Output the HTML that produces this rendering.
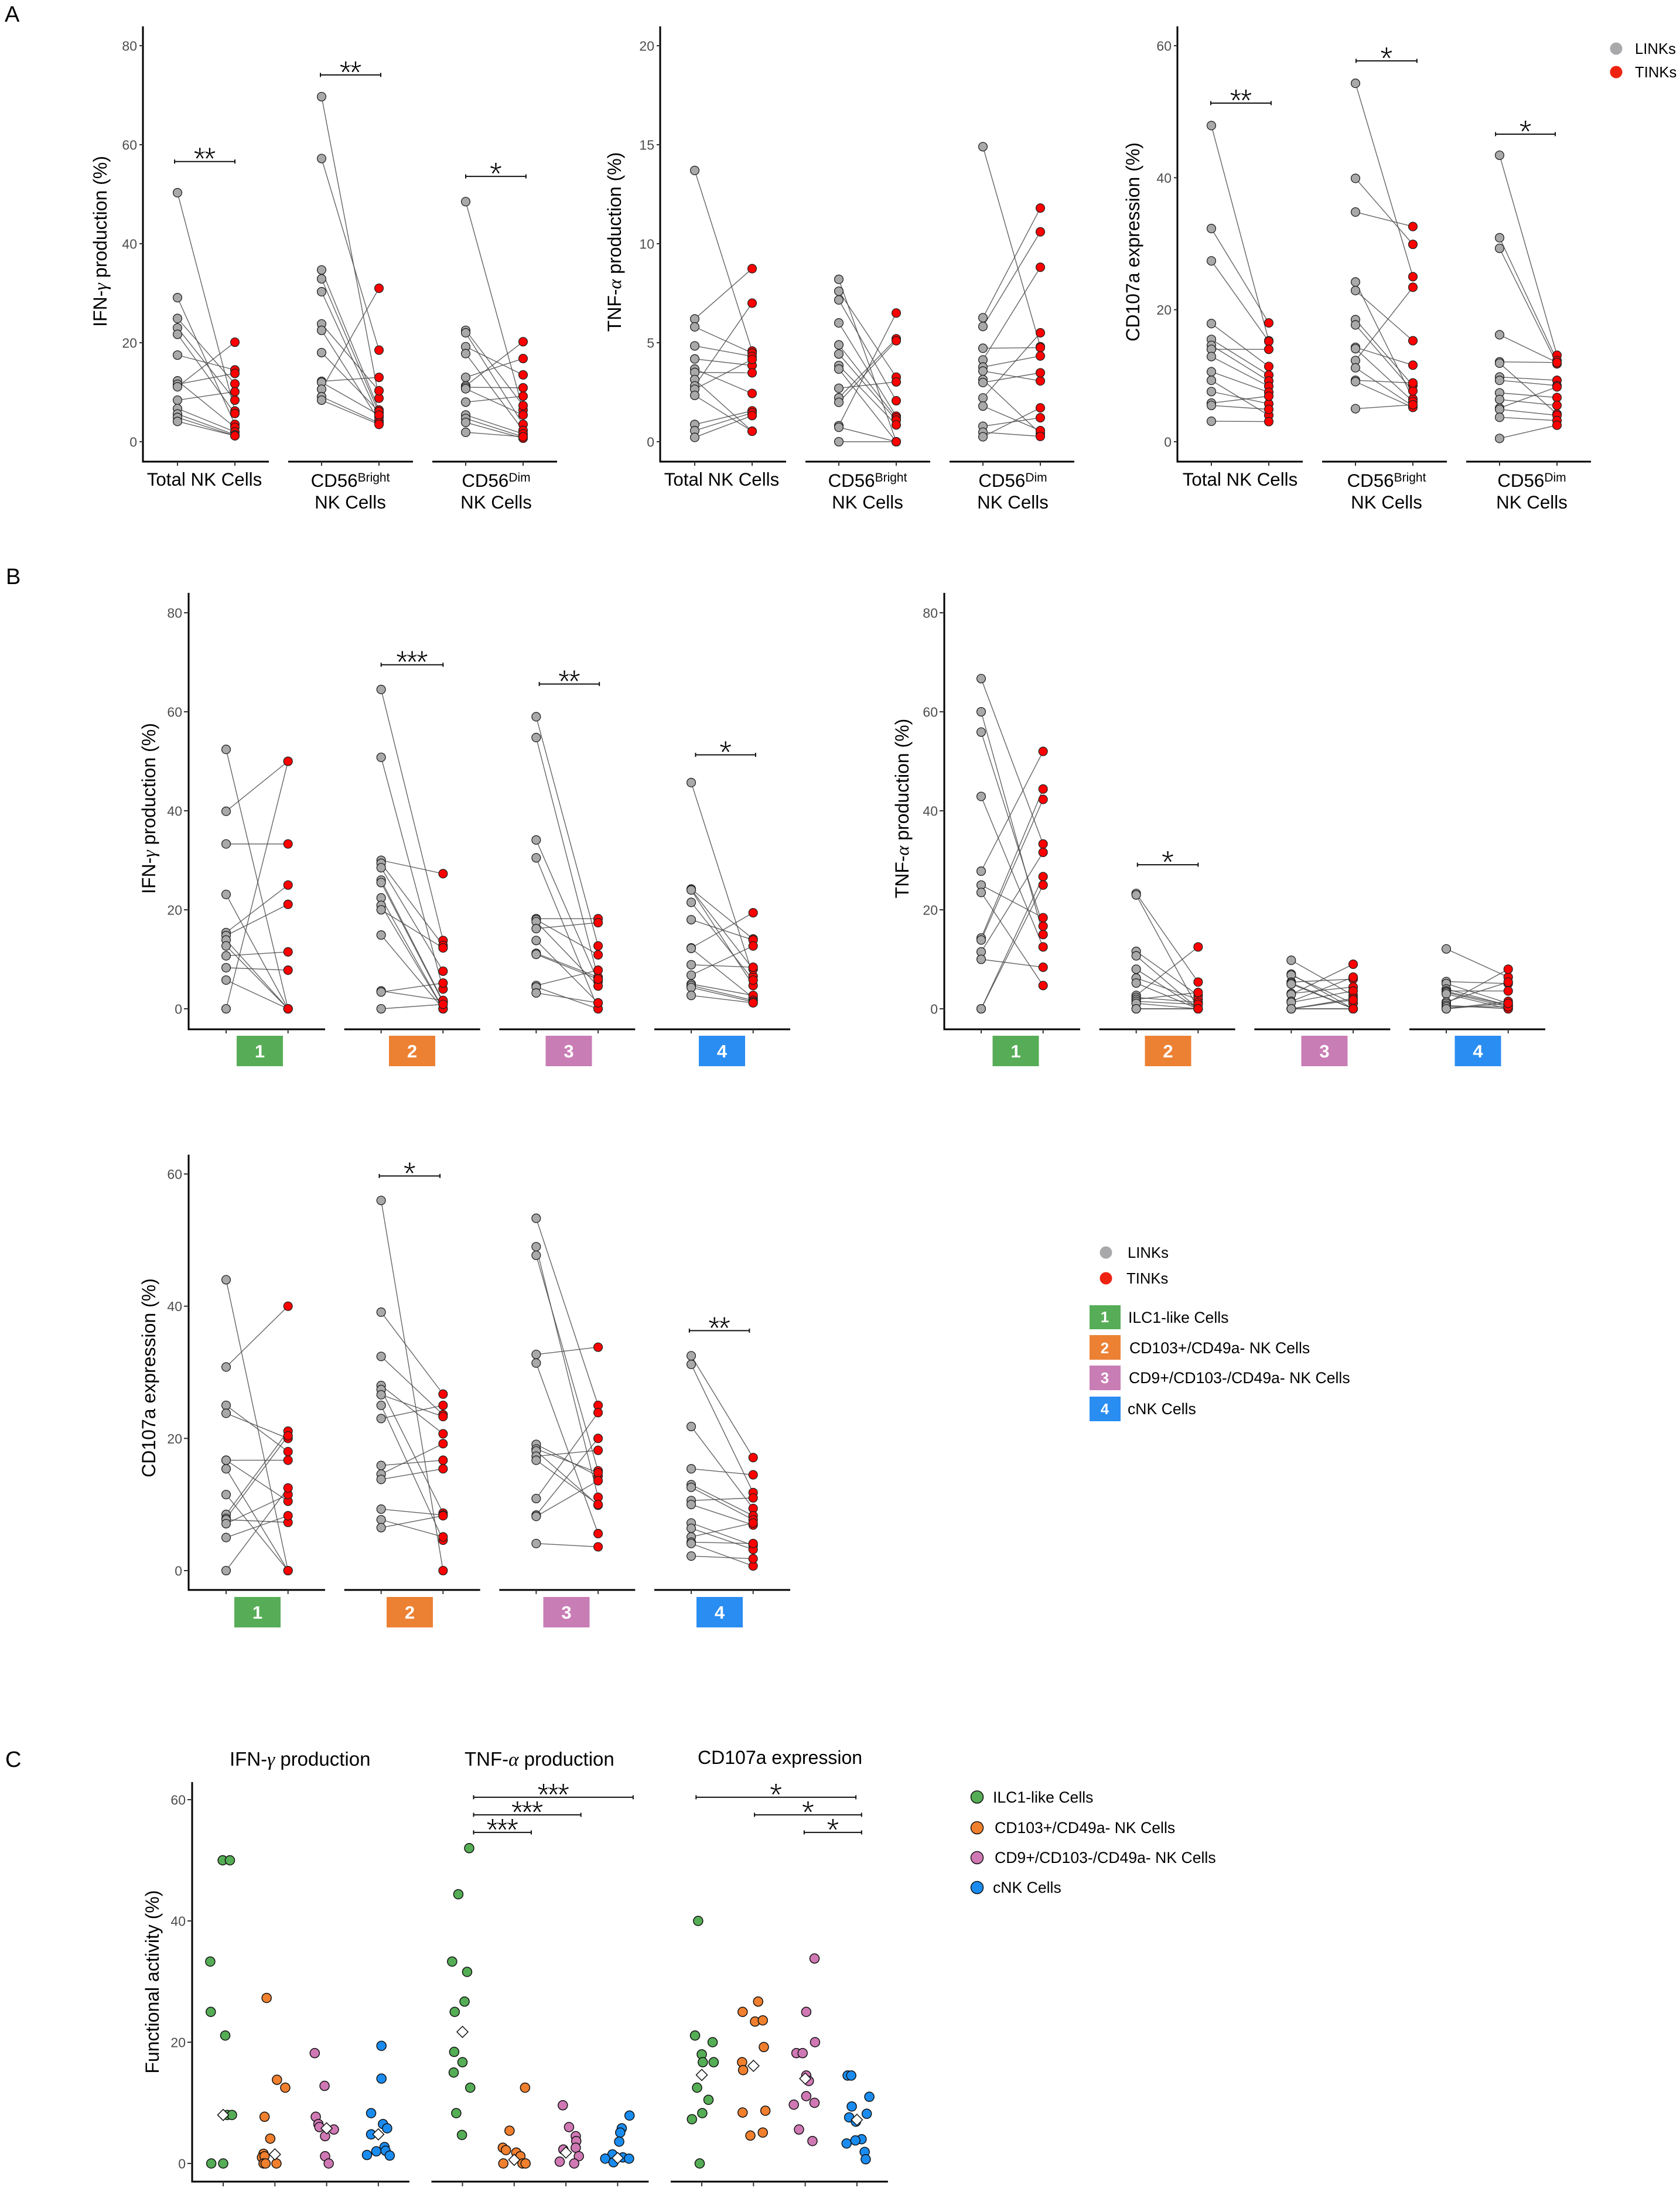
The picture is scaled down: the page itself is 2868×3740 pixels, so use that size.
<!DOCTYPE html>
<html lang="en">
<head>
<meta charset="utf-8">
<title>NK cell functional activity figure</title>
<style>
html,body{margin:0;padding:0;background:#fff;}
svg{display:block;}
text{font-family:"Liberation Sans",Arial,sans-serif;fill:#000;}
.tt{font-size:32px;}
.cat{font-size:31.3px;text-anchor:middle;}
.sup{font-size:21px;}
.leg{font-size:25.7px;}
.legl{font-size:26.6px;}
.ctitle{font-size:33px;}
.gk{font-family:"Liberation Serif",serif;font-style:italic;}
.letter{font-size:38px;}
</style>
</head>
<body>
<svg id="figure" xmlns="http://www.w3.org/2000/svg" width="2868" height="3740" viewBox="0 0 2868 3740">
  <rect width="2868" height="3740" fill="#fff"/>

  <text class="letter" x="8" y="37">A</text>
  <text class="letter" x="10" y="997">B</text>
  <text class="letter" x="9" y="3016">C</text>

  <text class="tt" transform="translate(182,412) rotate(-90)" text-anchor="middle">IFN-<tspan class="gk">γ</tspan> production (%)</text>
  <text class="tt" transform="translate(1060,413) rotate(-90)" text-anchor="middle">TNF-<tspan class="gk">α</tspan> production (%)</text>
  <text class="tt" transform="translate(1945,413) rotate(-90)" text-anchor="middle">CD107a expression (%)</text>
  <text class="tt" transform="translate(265,1380) rotate(-90)" text-anchor="middle">IFN-<tspan class="gk">γ</tspan> production (%)</text>
  <text class="tt" transform="translate(1551,1380) rotate(-90)" text-anchor="middle">TNF-<tspan class="gk">α</tspan> production (%)</text>
  <text class="tt" transform="translate(265,2352) rotate(-90)" text-anchor="middle">CD107a expression (%)</text>
  <text class="tt" transform="translate(271,3383) rotate(-90)" text-anchor="middle">Functional activity (%)</text>

  <g>
    <text class="cat" x="349" y="829">Total NK Cells</text>
    <text class="cat" x="598" y="831">CD56<tspan class="sup" dy="-9">Bright</tspan></text>
    <text class="cat" x="598" y="868">NK Cells</text>
    <text class="cat" x="847" y="831">CD56<tspan class="sup" dy="-9">Dim</tspan></text>
    <text class="cat" x="847" y="868">NK Cells</text>
  </g>
  <g>
    <text class="cat" x="1232" y="829">Total NK Cells</text>
    <text class="cat" x="1481" y="831">CD56<tspan class="sup" dy="-9">Bright</tspan></text>
    <text class="cat" x="1481" y="868">NK Cells</text>
    <text class="cat" x="1729" y="831">CD56<tspan class="sup" dy="-9">Dim</tspan></text>
    <text class="cat" x="1729" y="868">NK Cells</text>
  </g>
  <g>
    <text class="cat" x="2117" y="829">Total NK Cells</text>
    <text class="cat" x="2367" y="831">CD56<tspan class="sup" dy="-9">Bright</tspan></text>
    <text class="cat" x="2367" y="868">NK Cells</text>
    <text class="cat" x="2615" y="831">CD56<tspan class="sup" dy="-9">Dim</tspan></text>
    <text class="cat" x="2615" y="868">NK Cells</text>
  </g>

  <g>
    <circle cx="2759" cy="83" r="10.5" fill="#a9a9ab"/>
    <circle cx="2759" cy="123" r="10.5" fill="#ee2211"/>
    <text class="leg" x="2791" y="92">LINKs</text>
    <text class="leg" x="2791" y="132">TINKs</text>
  </g>

  <g>
    <circle cx="1888" cy="2138" r="10.5" fill="#a9a9ab"/>
    <circle cx="1888" cy="2182" r="10.5" fill="#ee2211"/>
    <text class="leg" x="1925" y="2147">LINKs</text>
    <text class="leg" x="1923" y="2191">TINKs</text>
    <rect x="1860" y="2228" width="53" height="41" fill="#57ad57"/>
    <rect x="1860" y="2279" width="53" height="42" fill="#ec8134"/>
    <rect x="1860" y="2331" width="53" height="42" fill="#c97db5"/>
    <rect x="1860" y="2384" width="53" height="42" fill="#2a8df2"/>
    <text x="1886" y="2257" text-anchor="middle" font-size="25.5" font-weight="bold" style="fill:#fff">1</text>
    <text x="1886" y="2310" text-anchor="middle" font-size="25.5" font-weight="bold" style="fill:#fff">2</text>
    <text x="1886" y="2361" text-anchor="middle" font-size="25.5" font-weight="bold" style="fill:#fff">3</text>
    <text x="1886" y="2414" text-anchor="middle" font-size="25.5" font-weight="bold" style="fill:#fff">4</text>
    <text class="legl" x="1926" y="2258">ILC1-like Cells</text>
    <text class="legl" x="1928" y="2310">CD103+/CD49a- NK Cells</text>
    <text class="legl" x="1927" y="2361">CD9+/CD103-/CD49a- NK Cells</text>
    <text class="legl" x="1925" y="2414">cNK Cells</text>
  </g>

  <text class="ctitle" x="392" y="3014">IFN-<tspan class="gk">γ</tspan> production</text>
  <text class="ctitle" x="793" y="3014">TNF-<tspan class="gk">α</tspan> production</text>
  <text class="ctitle" x="1191" y="3011" style="font-size:32px">CD107a expression</text>

  <g>
    <circle cx="1668" cy="3067.5" r="10.5" fill="#55ad55" stroke="#111" stroke-width="1.5"/>
    <circle cx="1668" cy="3120" r="10.5" fill="#f07f2e" stroke="#111" stroke-width="1.5"/>
    <circle cx="1668" cy="3171" r="10.5" fill="#cf78b4" stroke="#111" stroke-width="1.5"/>
    <circle cx="1668" cy="3222" r="10.5" fill="#1a8cf0" stroke="#111" stroke-width="1.5"/>
    <text class="legl" x="1695" y="3077">ILC1-like Cells</text>
    <text class="legl" x="1698" y="3129">CD103+/CD49a- NK Cells</text>
    <text class="legl" x="1698" y="3180">CD9+/CD103-/CD49a- NK Cells</text>
    <text class="legl" x="1695" y="3231">cNK Cells</text>
  </g>
</svg>

<script>
// ---------- Tick labels ----------
const ticksIfnA = [0, 20, 40, 60, 80];
const ticksTnfA = [0, 5, 10, 15, 20];
const ticksCd107 = [0, 20, 40, 60];
const ticksB = [0, 20, 40, 60, 80];
const ticksC = [0, 20, 40, 60];
const subsetLabels = ['1', '2', '3', '4'];

// ---------- Panel A: IFN-gamma ----------
const aIfnTotalLinks = [50.3,29.1,24.9,23,21.7,17.5,12.3,11.6,11.1,8.4,6.7,5.6,4.9,4.1];
const aIfnTotalTinks = [6.2,3.5,11.7,8.4,5.7,14.5,2.9,13.8,20.1,10.1,2,1.4,1.2,1.2];
const aIfnBrightLinks = [69.7,57.2,34.7,32.9,30.3,23.8,22.5,18,12.2,12,10.6,9.1,8.4];
const aIfnBrightTinks = [8.8,18.5,6.4,5.8,5,10.3,4.3,6.1,13,5.4,31,3.8,3.5];
const aIfnDimLinks = [48.5,22.5,22,19.2,17.8,13,11.3,11,10.7,8,5.4,4.7,3.9,1.9];
const aIfnDimTinks = [6.4,7.3,3.5,13.5,2.3,16.8,20.2,10.9,5.4,9.2,1.6,1,0.7,1];
// ---------- Panel A: TNF-alpha ----------
const aTnfTotalLinks = [13.7,6.2,5.8,4.84,4.18,3.67,3.5,3.14,2.82,2.65,2.34,0.87,0.56,0.22];
const aTnfTotalTinks = [4.58,8.74,4.48,4.31,3.85,2.44,3.48,0.53,7,4.16,0.53,1.56,1.46,1.32];
const aTnfBrightLinks = [8.2,7.6,7.16,6,4.89,4.43,3.85,3.67,2.7,2.22,1.99,0.81,0.73,0];
const aTnfBrightTinks = [0,3.26,2.07,1.29,1.2,1.09,0.85,0,3.02,5.2,5.1,6.5,0,0];
const aTnfDimLinks = [14.9,6.26,5.82,4.72,4.13,3.77,3.57,3.14,2.99,2.21,1.8,0.78,0.48,0.25];
const aTnfDimTinks = [4.8,11.8,10.6,4.75,8.81,4.33,3.07,0.41,3.48,5.5,0.56,1.21,0.27,1.71];
// ---------- Panel A: CD107a ----------
const aCdTotalLinks = [47.9,32.3,27.4,17.9,15.5,14.6,14,12.9,10.6,9.3,7.6,5.85,5.5,3.1];
const aCdTotalTinks = [15.3,18,15.2,11.4,10.1,9.2,14,8.4,7.5,4,5.75,6.9,4.9,3.05];
const aCdBrightLinks = [54.3,39.9,34.8,24.2,22.9,18.5,17.7,14.3,14.1,12.3,11.2,9.3,9.1,5];
const aCdBrightTinks = [25,29.9,32.6,6.5,15.3,8.5,7.7,11.6,6.1,23.4,5.4,8.9,5.2,5.6];
const aCdDimLinks = [43.4,30.9,29.3,16.2,12.1,11.9,9.8,9.3,7.4,6.4,5.1,4.9,3.7,0.5];
const aCdDimTinks = [13.1,12.3,11.8,12,12,4.2,9.3,8.5,6.7,5.5,8.3,4,3.2,2.5];

// ---------- Panel B: IFN-gamma ----------
const bIfn1Links = [52.4,39.9,33.3,23.1,15.4,14.8,13.9,12.7,10.7,8.3,5.8,0];
const bIfn1Tinks = [0,50,33.3,0,25,21.1,0,0,11.5,7.8,0,50];
const bIfn2Links = [64.5,50.8,30,29.4,28.5,26,25.5,22.4,20.9,20,14.9,3.6,3.4,0];
const bIfn2Tinks = [13.8,4,27.3,12.8,7.6,1.5,1.3,0,0,12.3,0,1.7,5.2,0.9];
const bIfn3Links = [59,54.8,34.1,30.5,18.2,18,17.6,16.2,13.8,11.2,11,4.7,4.4,3.2];
const bIfn3Tinks = [12.7,6.2,5.5,0,18.2,10.9,4.6,17.4,1.2,6.4,6,7.8,0,1.2];
const bIfn4Links = [45.7,24.2,24.1,24,21.5,18,12.3,12.2,8.9,6.8,5,4.7,4.3,2.7];
const bIfn4Tinks = [6.6,14.1,8,4.7,5.8,13.9,19.4,2.2,8.4,12.7,2.7,1.7,1.4,1.2];
// ---------- Panel B: TNF-alpha ----------
const bTnf1Links = [66.7,60,55.9,42.9,27.8,25,23.5,14.3,13.9,11.5,10,0,0];
const bTnf1Tinks = [33.3,15,16.7,12.5,52,18.4,4.7,44.4,42.3,31.6,8.4,26.7,25];
const bTnf2Links = [23.3,23,11.6,10.7,8,6.2,5.2,2.7,2.3,1.9,1.5,1.1,0,0];
const bTnf2Tinks = [5.4,0,2.7,0,0,1.9,0,12.5,1.3,3.3,0.9,0,0,0];
const bTnf3Links = [9.8,7,6.8,5.4,5.2,5,3.1,2.9,1.5,1.3,0,0,0,0];
const bTnf3Tinks = [2.7,0,1.1,6,0,0,4.4,9,6.4,3.6,2.1,1.8,0,0];
const bTnf4Links = [12.1,5.5,5.1,4,3.6,3.5,3.3,3,1.4,1.1,0.7,0.4,0,0];
const bTnf4Tinks = [6.4,5.1,1.1,0.7,3.6,0.7,0.4,0,5.4,8,0,0.4,1.5,1.1];
// ---------- Panel B: CD107a ----------
const bCd1Links = [44,30.8,25,23.8,16.7,16.7,15.4,11.5,8.5,7.9,7.7,7.1,5,0];
const bCd1Tinks = [0,40,18,20,16.7,10.5,0,0,21.1,20.4,7.3,11.5,8.3,12.5];
const bCd2Links = [56,39.1,32.4,28,27.4,26.6,25,23,15.9,14.6,13.8,9.3,7.7,6.5];
const bCd2Tinks = [0,26.7,23.6,20.7,8.7,23.3,4.6,25,16.7,19.2,15.4,8.4,5.1,8.3];
const bCd3Links = [53.3,49,47.7,32.7,31.4,19.1,18.4,18.1,17.3,16.7,10.9,8.4,8.2,4.1];
const bCd3Tinks = [25,11.1,15.1,33.8,5.6,14.3,14.8,9.9,18.2,10,23.9,20,13.6,3.6];
const bCd4Links = [32.5,31.2,21.8,15.4,13,12.6,10.6,10,7.2,6.4,5.1,4.3,4.1,2.2];
const bCd4Tinks = [17.1,11.8,9.4,14.5,8.3,7.7,11,6.9,3.8,3.2,7.2,4.1,0.7,1.8];

// ---------- Panel C: values and horizontal jitter (in category units) ----------
const cIfnIlc1 = [33.3,25,50,50,21.1,8,8,0,0];
const cIfnIlc1Jitter = [-0.25,-0.24,-0.01,0.13,0.04,0.08,0.17,-0.23,0];
const cIfnCd103 = [27.3,13.8,12.5,7.7,4.1,1.6,1,1.2,0,0,0];
const cIfnCd103Jitter = [-0.16,0.04,0.2,-0.2,-0.09,-0.22,-0.25,-0.2,-0.22,-0.18,0.03];
const cIfnCd9 = [18.2,12.8,7.7,6.5,6,4.5,5.6,1.2,0];
const cIfnCd9Jitter = [-0.23,-0.04,-0.21,-0.16,-0.14,-0.03,0.14,-0.03,0.04];
const cIfnCnk = [19.4,14,8.3,6.5,5.8,4.8,2.7,2.1,2,1.4,1.3];
const cIfnCnkJitter = [0.06,0.06,-0.14,0.09,0.17,-0.14,0.12,0.14,-0.04,-0.22,0.22];
const cIfnMeans = [8,1.5,5.8,4.8];

const cTnfIlc1 = [52,44.4,33.3,31.6,26.7,25,18.4,16.7,15,12.5,8.3,4.7];
const cTnfIlc1Jitter = [0.13,-0.08,-0.2,0.09,0.04,-0.15,-0.16,0,-0.17,0.15,-0.12,-0.01];
const cTnfCd103 = [12.5,5.4,2.6,2.2,1.8,1.2,0,0,0];
const cTnfCd103Jitter = [0.21,-0.09,-0.22,-0.16,0.04,0.12,-0.21,0.16,0.22];
const cTnfCd9 = [9.6,6,4.5,3.7,2.6,2.3,1.2,0.3,0];
const cTnfCd9Jitter = [-0.06,0.06,0.19,0.2,0.19,-0.05,0.25,-0.12,0.16];
const cTnfCnk = [7.9,5.8,5.1,3.6,1.5,0.8,0.2,1,0.8];
const cTnfCnkJitter = [0.23,0.08,0.05,0.03,-0.1,-0.24,-0.08,0.1,0.22];
const cTnfMeans = [21.7,0.6,1.8,0.9];

const cCdIlc1 = [40,21.1,20,18,16.7,16.7,12.5,10.5,8.3,7.3,0];
const cCdIlc1Jitter = [-0.07,-0.13,0.21,0,0.02,0.23,-0.09,0.13,0.01,-0.19,-0.04];
const cCdCd103 = [26.7,25,23.4,23.6,19.2,16.7,15.4,8.7,8.4,5.1,4.6];
const cCdCd103Jitter = [0.09,-0.21,0.03,0.18,0.2,-0.22,-0.2,0.23,-0.21,0.18,-0.06];
const cCdCd9 = [33.8,25,20,18.2,18.2,14.5,13.6,11.1,9.7,10,5.6,3.7];
const cCdCd9Jitter = [0.18,0.02,0.19,-0.17,-0.05,0.02,0.07,0.02,-0.22,0.18,-0.12,0.14];
const cCdCnk = [14.5,14.5,11,9.4,8.2,7.6,6.9,4,3.8,3.3,1.9,0.7];
const cCdCnkJitter = [-0.18,-0.11,0.24,-0.1,0.19,-0.15,-0.02,0.09,-0.03,-0.2,0.15,0.17];
const cCdMeans = [14.6,16.1,14,7.2];

// ---------- Significance brackets: [group, from, to, value, stars] ----------
const sigAIfn = [[0,-0.05,1,56.6,'**'],[1,-0.02,1.03,74.1,'**'],[2,0,1.05,53.6,'*']];
const sigACd = [[0,-0.01,1.04,51.3,'**'],[1,0.01,1.07,57.7,'*'],[2,-0.07,0.97,46.6,'*']];
const sigBIfn = [[1,0,1,69.5,'***'],[2,0.05,1.02,65.6,'**'],[3,0.07,1.04,51.3,'*']];
const sigBTnf = [[1,0.02,1,29.1,'*']];
const sigBCd = [[1,-0.03,0.95,59.7,'*'],[3,-0.03,0.94,36.3,'**']];
const sigCTnf = [[1,0.215,3.3,60.4,'***'],[1,0.215,2.29,57.5,'***'],[1,0.215,1.33,54.6,'***']];
const sigCCd = [[2,-0.11,2.98,60.4,'*'],[2,1.02,3.09,57.5,'*'],[2,1.98,3.09,54.6,'*']];

// ---------- Drawing helpers ----------
const NS = 'http://www.w3.org/2000/svg';
const root = document.getElementById('figure');
function mk(tag, attrs, parent) {
  const e = document.createElementNS(NS, tag);
  for (const k in attrs) e.setAttribute(k, attrs[k]);
  parent.appendChild(e);
  return e;
}
function makeY(y0, yMaxPix, maxVal) {
  return function (v) { return y0 - v * (y0 - yMaxPix) / maxVal; };
}
function drawBracket(parent, x1, x2, y, stars, width) {
  const t = mk('text', {x: (x1 + x2) / 2 - 2.5, y: y + 15, 'text-anchor': 'middle', 'font-size': 56, 'letter-spacing': -5, stroke: '#fff', 'stroke-width': 1.1}, parent);
  t.textContent = stars;
  
  
  const b = mk('path', {d: 'M' + x1 + ' ' + (y - 3.5) + 'V' + (y + 3.5) + 'M' + x1 + ' ' + y + 'H' + x2 + 'M' + x2 + ' ' + (y - 3.5) + 'V' + (y + 3.5), fill: 'none', stroke: '#111', 'stroke-width': width}, parent);
  
  
}
function drawYAxis(parent, axisX, top, bottom, yFn, ticks, labelGap, tickLen) {
  const ax = mk('line', {x1: axisX, x2: axisX, y1: top, y2: bottom + 1.5, stroke: '#000', 'stroke-width': 3}, parent);
  
  
  ticks.forEach(function (v) {
    const y = yFn(v);
    const tk = mk('line', {x1: axisX - tickLen, x2: axisX, y1: y, y2: y, stroke: '#333', 'stroke-width': 2}, parent);
    
    
    const lb = mk('text', {x: axisX - labelGap, y: y + 8.5, 'text-anchor': 'end', 'font-size': 23, style: 'fill:#4d4d4d'}, parent);
    lb.textContent = String(v);
    
    
  });
}
function drawBaseline(parent, x1, x2, y) {
  const s = mk('line', {x1: x1, x2: x2, y1: y, y2: y, stroke: '#000', 'stroke-width': 3}, parent);
  
  
}
function drawXTick(parent, x, y, len) {
  const tk = mk('line', {x1: x, x2: x, y1: y, y2: y + len, stroke: '#333', 'stroke-width': 2}, parent);
  
  
}
function drawPairs(parent, xL, xT, links, tinks, yFn) {
  links.forEach(function (v, i) {
    const ln = mk('line', {x1: xL, x2: xT, y1: yFn(v), y2: yFn(tinks[i]), stroke: '#4a4a4a', 'stroke-width': 1.4, 'stroke-opacity': 0.85}, parent);
    
    
  });
  links.forEach(function (v) {
    const c = mk('circle', {cx: xL, cy: yFn(v), r: 7.4, fill: '#a9a9a9', stroke: '#222', 'stroke-width': 1.3}, parent);
    
    
  });
  tinks.forEach(function (v) {
    const c = mk('circle', {cx: xT, cy: yFn(v), r: 7.4, fill: '#ff0000', stroke: '#222', 'stroke-width': 1.3}, parent);
    
    
  });
}

// ---------- Paired panels ----------
const boxColors = ['#57ad57', '#ec8134', '#c97db5', '#2a8df2'];
function drawPaired(cfg) {
  const g = mk('g', {}, root);
  
  
  const y = makeY(cfg.y0, cfg.yMaxPix, cfg.ticks[cfg.ticks.length - 1]);
  const xTick = function (group, side) { return cfg.x0 + group * cfg.groupStep + side * cfg.pairStep; };
  drawYAxis(g, cfg.axisX, cfg.top, cfg.bottom, y, cfg.ticks, cfg.labelGap, cfg.tickLen);
  cfg.groups.forEach(function (pair, i) {
    const t0 = xTick(i, 0), t1 = xTick(i, 1);
    drawBaseline(g, i === 0 ? cfg.axisX - 1.5 : t0 - cfg.segBefore, t0 + cfg.segAfter, cfg.bottom);
    drawXTick(g, t0, cfg.bottom, 7);
    drawXTick(g, t1, cfg.bottom, 7);
    drawPairs(g, t0, t1, pair[0], pair[1], y);
    if (cfg.boxes) {
      const bx = cfg.boxes[i];
      const r = mk('rect', {x: bx - 39.5, y: cfg.boxTop, width: 79, height: 52, fill: boxColors[i]}, g);
      
      
      const n = mk('text', {x: bx, y: cfg.boxTop + 37, 'text-anchor': 'middle', 'font-size': 31, 'font-weight': 'bold', style: 'fill:#fff'}, g);
      n.textContent = subsetLabels[i];
      
      
    }
  });
  cfg.sig.forEach(function (s) {
    drawBracket(g, xTick(s[0], s[1]), xTick(s[0], s[2]), y(s[3]), s[4], 2);
  });
}

const stepA = {groupStep: 246, pairStep: 98, segBefore: 57, segAfter: 156, y0: 754, yMaxPix: 78, top: 45, bottom: 788, labelGap: 10, tickLen: 6};
const stepB = {groupStep: 264.67, pairStep: 105.7, segBefore: 63, segAfter: 169, labelGap: 11, tickLen: 8};

drawPaired(Object.assign({name: 'chart-a-ifn', axisX: 244, x0: 303, ticks: ticksIfnA, sig: sigAIfn,
  groups: [[aIfnTotalLinks, aIfnTotalTinks], [aIfnBrightLinks, aIfnBrightTinks], [aIfnDimLinks, aIfnDimTinks]]}, stepA));
drawPaired(Object.assign({name: 'chart-a-tnf', axisX: 1127, x0: 1186, ticks: ticksTnfA, sig: [],
  groups: [[aTnfTotalLinks, aTnfTotalTinks], [aTnfBrightLinks, aTnfBrightTinks], [aTnfDimLinks, aTnfDimTinks]]}, stepA));
drawPaired(Object.assign({name: 'chart-a-cd107a', axisX: 2010, x0: 2068, ticks: ticksCd107, sig: sigACd,
  groups: [[aCdTotalLinks, aCdTotalTinks], [aCdBrightLinks, aCdBrightTinks], [aCdDimLinks, aCdDimTinks]]}, stepA));

drawPaired(Object.assign({name: 'chart-b-ifn', axisX: 322, x0: 386, y0: 1722, yMaxPix: 1046, top: 1012, bottom: 1757, ticks: ticksB, sig: sigBIfn,
  boxes: [443.5, 703.5, 971, 1232.5], boxTop: 1768,
  groups: [[bIfn1Links, bIfn1Tinks], [bIfn2Links, bIfn2Tinks], [bIfn3Links, bIfn3Tinks], [bIfn4Links, bIfn4Tinks]]}, stepB));
drawPaired(Object.assign({name: 'chart-b-tnf', axisX: 1612, x0: 1675, y0: 1722, yMaxPix: 1046, top: 1012, bottom: 1757, ticks: ticksB, sig: sigBTnf,
  boxes: [1734, 1994, 2261, 2523], boxTop: 1768,
  groups: [[bTnf1Links, bTnf1Tinks], [bTnf2Links, bTnf2Tinks], [bTnf3Links, bTnf3Tinks], [bTnf4Links, bTnf4Tinks]]}, stepB));
drawPaired(Object.assign({name: 'chart-b-cd107a', axisX: 322, x0: 386, y0: 2681, yMaxPix: 2004, top: 1971, bottom: 2714, ticks: ticksCd107, sig: sigBCd,
  boxes: [439.5, 699.5, 967, 1228.5], boxTop: 2726,
  groups: [[bCd1Links, bCd1Tinks], [bCd2Links, bCd2Tinks], [bCd3Links, bCd3Tinks], [bCd4Links, bCd4Tinks]]}, stepB));

// ---------- Panel C ----------
const cColors = ['#55ad55', '#f07f2e', '#cf78b4', '#1a8cf0'];
const cY = makeY(3693, 3072, 60);
const cBottom = 3724;
const cTickStep = 88.3;
const cFacetStep = 408.5;
const cFirstTick = 381;
function cX(facet, tick) { return cFirstTick + facet * cFacetStep + tick * cTickStep; }

const cGroup = mk('g', {}, root);


drawYAxis(cGroup, 328, 3042, cBottom, cY, ticksC, 11, 8);

const cFacets = [
  {vals: [cIfnIlc1, cIfnCd103, cIfnCd9, cIfnCnk], jit: [cIfnIlc1Jitter, cIfnCd103Jitter, cIfnCd9Jitter, cIfnCnkJitter], means: cIfnMeans},
  {vals: [cTnfIlc1, cTnfCd103, cTnfCd9, cTnfCnk], jit: [cTnfIlc1Jitter, cTnfCd103Jitter, cTnfCd9Jitter, cTnfCnkJitter], means: cTnfMeans},
  {vals: [cCdIlc1, cCdCd103, cCdCd9, cCdCnk], jit: [cCdIlc1Jitter, cCdCd103Jitter, cCdCd9Jitter, cCdCnkJitter], means: cCdMeans}
];
cFacets.forEach(function (f, fi) {
  drawBaseline(cGroup, fi === 0 ? 326.5 : cX(fi, 0) - 53, cX(fi, 3) + 53, cBottom);
  f.vals.forEach(function (series, si) {
    const tx = cX(fi, si);
    drawXTick(cGroup, tx, cBottom, 8);
    series.forEach(function (v, i) {
      const c = mk('circle', {cx: tx + f.jit[si][i] * cTickStep, cy: cY(v), r: 8, fill: cColors[si], stroke: '#111', 'stroke-width': 1.5}, cGroup);
      
      
    });
    const my = cY(f.means[si]);
    const d = mk('path', {d: 'M' + tx + ' ' + (my - 9.5) + 'L' + (tx + 9.5) + ' ' + my + 'L' + tx + ' ' + (my + 9.5) + 'L' + (tx - 9.5) + ' ' + my + 'Z', fill: '#fff', stroke: '#111', 'stroke-width': 1.5}, cGroup);
    
    
  });
});
sigCTnf.concat(sigCCd).forEach(function (s) {
  drawBracket(cGroup, cX(s[0], s[1]), cX(s[0], s[2]), cY(s[3]), s[4], 2);
});
</script>
</body>
</html>
